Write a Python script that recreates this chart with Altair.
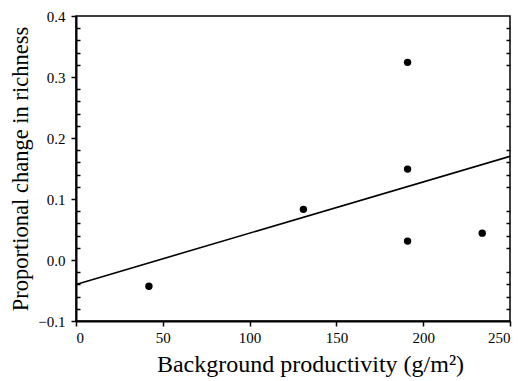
import altair as alt
import pandas as pd

# data
productivity = [42, 131, 191, 191, 191, 234]
richness_change = [-0.043, 0.083, 0.324, 0.149, 0.031, 0.044]

fit_x = [0, 250]
fit_y = [-0.04, 0.17]

x_ticks = [0, 50, 100, 150, 200, 250]
y_ticks = [-0.1, 0.0, 0.1, 0.2, 0.3, 0.4]
y_minor = [-0.08, -0.06, -0.04, -0.02, 0.02, 0.04, 0.06, 0.08,
           0.12, 0.14, 0.16, 0.18, 0.22, 0.24, 0.26, 0.28,
           0.32, 0.34, 0.36, 0.38]

pts = pd.DataFrame({"prod": productivity, "change": richness_change})
fit = pd.DataFrame({"x": fit_x, "y": fit_y})

FONT = "'Liberation Serif', 'Times New Roman', Times, 'DejaVu Serif', serif"
xs = alt.Scale(domain=[0, 250], nice=False, zero=False)
ys = alt.Scale(domain=[-0.1, 0.4], nice=False, zero=False)

x_axis = alt.Axis(
    orient="bottom", values=x_ticks, format="d", grid=False,
    title="Background productivity (g/m²)", titleFont=FONT, titleFontSize=24,
    titleFontWeight="normal", titleColor="black", titlePadding=7, titleX=234,
    labelFont=FONT, labelFontSize=15, labelColor="black", labelPadding=4,
    tickSize=5, tickWidth=1.5, tickColor="black",
    domainColor="black", domainWidth=2,
)
y_axis = alt.Axis(
    orient="left", values=y_ticks, format=".1f", grid=False,
    title="Proportional change in richness", titleFont=FONT, titleFontSize=22.5,
    titleFontWeight="normal", titleColor="black", titlePadding=5,
    labelFont=FONT, labelFontSize=15, labelColor="black", labelPadding=6,
    tickSize=5, tickWidth=1.5, tickColor="black",
    domainColor="black", domainWidth=2,
)
y_minor_left = alt.Axis(
    orient="left", values=y_minor, grid=False, labels=False, title=None,
    domain=False, tickSize=4, tickWidth=1.5, tickColor="black", offset=-4,
)
y_minor_right = alt.Axis(
    orient="right", values=y_minor, grid=False, labels=False, title=None,
    domain=False, tickSize=4, tickWidth=1.5, tickColor="black", offset=-4,
)

points = alt.Chart(pts).mark_circle(size=55, color="black", opacity=1).encode(
    x=alt.X("prod:Q", scale=xs, axis=x_axis),
    y=alt.Y("change:Q", scale=ys, axis=y_axis),
)
line = alt.Chart(fit).mark_line(color="black", strokeWidth=1.6).encode(
    x=alt.X("x:Q", scale=xs, axis=x_axis),
    y=alt.Y("y:Q", scale=ys, axis=y_minor_left),
)
right = alt.Chart(fit).mark_line(opacity=0).encode(
    x=alt.X("x:Q", scale=xs, axis=x_axis),
    y=alt.Y("y:Q", scale=ys, axis=y_minor_right),
)

chart = (
    alt.layer(points, line, right)
    .resolve_axis(y="independent")
    .properties(
        width=434, height=305,
        autosize=alt.AutoSizeParams(type="none"),
        padding={"left": 68, "top": 8, "right": 4, "bottom": 58},
        background="white",
    )
    .configure_view(stroke="black", strokeWidth=1.5)
    .configure_axis(labelFont=FONT, titleFont=FONT)
)

chart.save("out.html", embed_options={"renderer": "svg", "actions": False})
